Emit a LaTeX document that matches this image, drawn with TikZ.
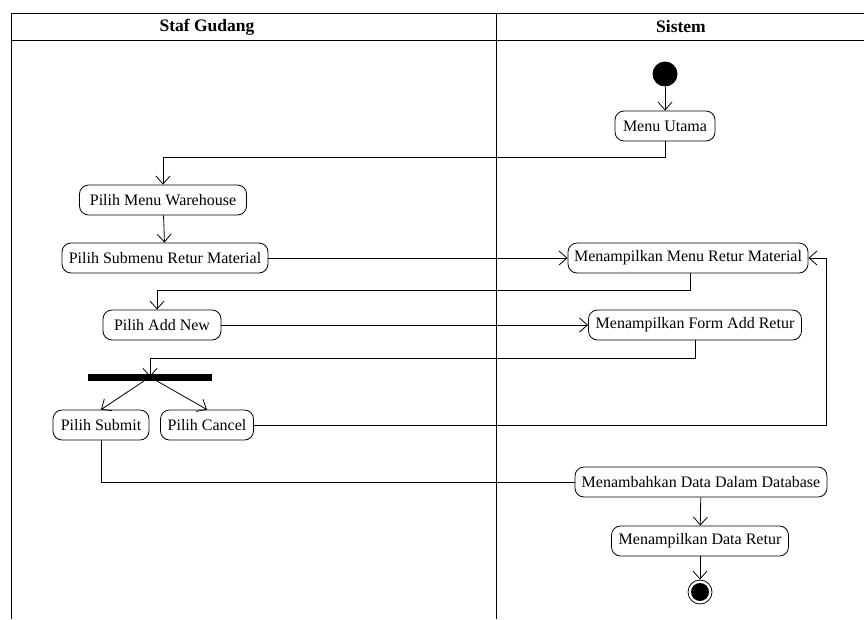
\documentclass[tikz,border=0pt]{standalone}
\usepackage{fontspec}
\setmainfont{Liberation Serif}
\usetikzlibrary{arrows.meta}
\begin{document}
\begin{tikzpicture}[x=1pt,y=-1pt,
  act/.style={draw, line width=0.8pt, rounded corners=9pt, minimum height=30pt, inner xsep=3pt, font=\fontsize{16}{18}\selectfont},
  arr/.style={line width=0.8pt, -{Straight Barb[length=8pt,width=14pt,line width=0.8pt]}},
  ln/.style={line width=0.8pt},
  hdr/.style={font=\fontsize{17.5}{20}\selectfont\bfseries}]
\useasboundingbox (0,0) rectangle (864,619);
\begin{scope}
\clip (0,0) rectangle (864,619);
\draw[line width=0.9pt] (11,619) -- (11,13) -- (880,13);
\draw[line width=0.9pt] (11,40) -- (880,40);
\draw[line width=0.9pt] (496,13) -- (496,619);
\end{scope}
\node[hdr] (h1) at (207,27) {Staf Gudang};
\node[hdr] (h2) at (681,27) {Sistem};
% nodes
\node[circle, fill=black, minimum size=25pt, inner sep=0pt] (start) at (665,74) {};
\node[act, minimum width=100pt] (mu) at (665,126) {Menu Utama};
\node[act, minimum width=167pt] (pmw) at (163,200) {Pilih Menu Warehouse};
\node[act, minimum width=206pt] (psrm) at (165,258) {Pilih Submenu Retur Material};
\node[act, minimum width=240pt] (mmrm) at (688,258) {Menampilkan Menu Retur Material};
\node[act, minimum width=118pt] (pan) at (162,325) {Pilih Add New};
\node[act, minimum width=213pt] (mfar) at (695,325) {Menampilkan Form Add Retur};
\node[fill=black, minimum width=124pt, minimum height=7pt, inner sep=0pt] (fork) at (150,377) {};
\node[act, minimum width=96pt] (ps) at (101,425) {Pilih Submit};
\node[act, minimum width=93pt] (pc) at (207,425) {Pilih Cancel};
\node[act, minimum width=252pt] (mtdd) at (701,482) {Menambahkan Data Dalam Database};
\node[act, minimum width=177pt] (mdr) at (700,541) {Menampilkan Data Retur};
\node[circle, draw, line width=0.8pt, minimum size=24pt, inner sep=0pt] (end) at (700,592) {};
\node[circle, fill=black, minimum size=18pt, inner sep=0pt] (endin) at (end.center) {};
% connectors
\coordinate (c1) at (665,157);
\coordinate (c2) at (690,290);
\coordinate (c3) at (695,358);
\coordinate (c4) at (826,425);
\draw[arr] (start) -- (mu);
\draw[arr] (mu.south) -- (c1) -| (pmw.north);
\draw[arr] (pmw) -- (psrm);
\draw[arr] (psrm) -- (mmrm);
\draw[arr] (c2 |- mmrm.south) -- (c2) -| ([xshift=-5pt]pan.north);
\draw[arr] (pan) -- (mfar);
\draw[arr] (mfar.south) -- (c3) -| (fork.center);
\draw[arr] (fork.center) -- (ps.north);
\draw[arr] (fork.center) -- (pc.north);
\draw[arr] (pc.east) -- (c4) |- (mmrm.east);
\draw[ln] (ps.south) |- (mtdd.west);
\draw[arr] (mtdd) -- (mdr);
\draw[arr] (mdr) -- (end);
\end{tikzpicture}
\end{document}
